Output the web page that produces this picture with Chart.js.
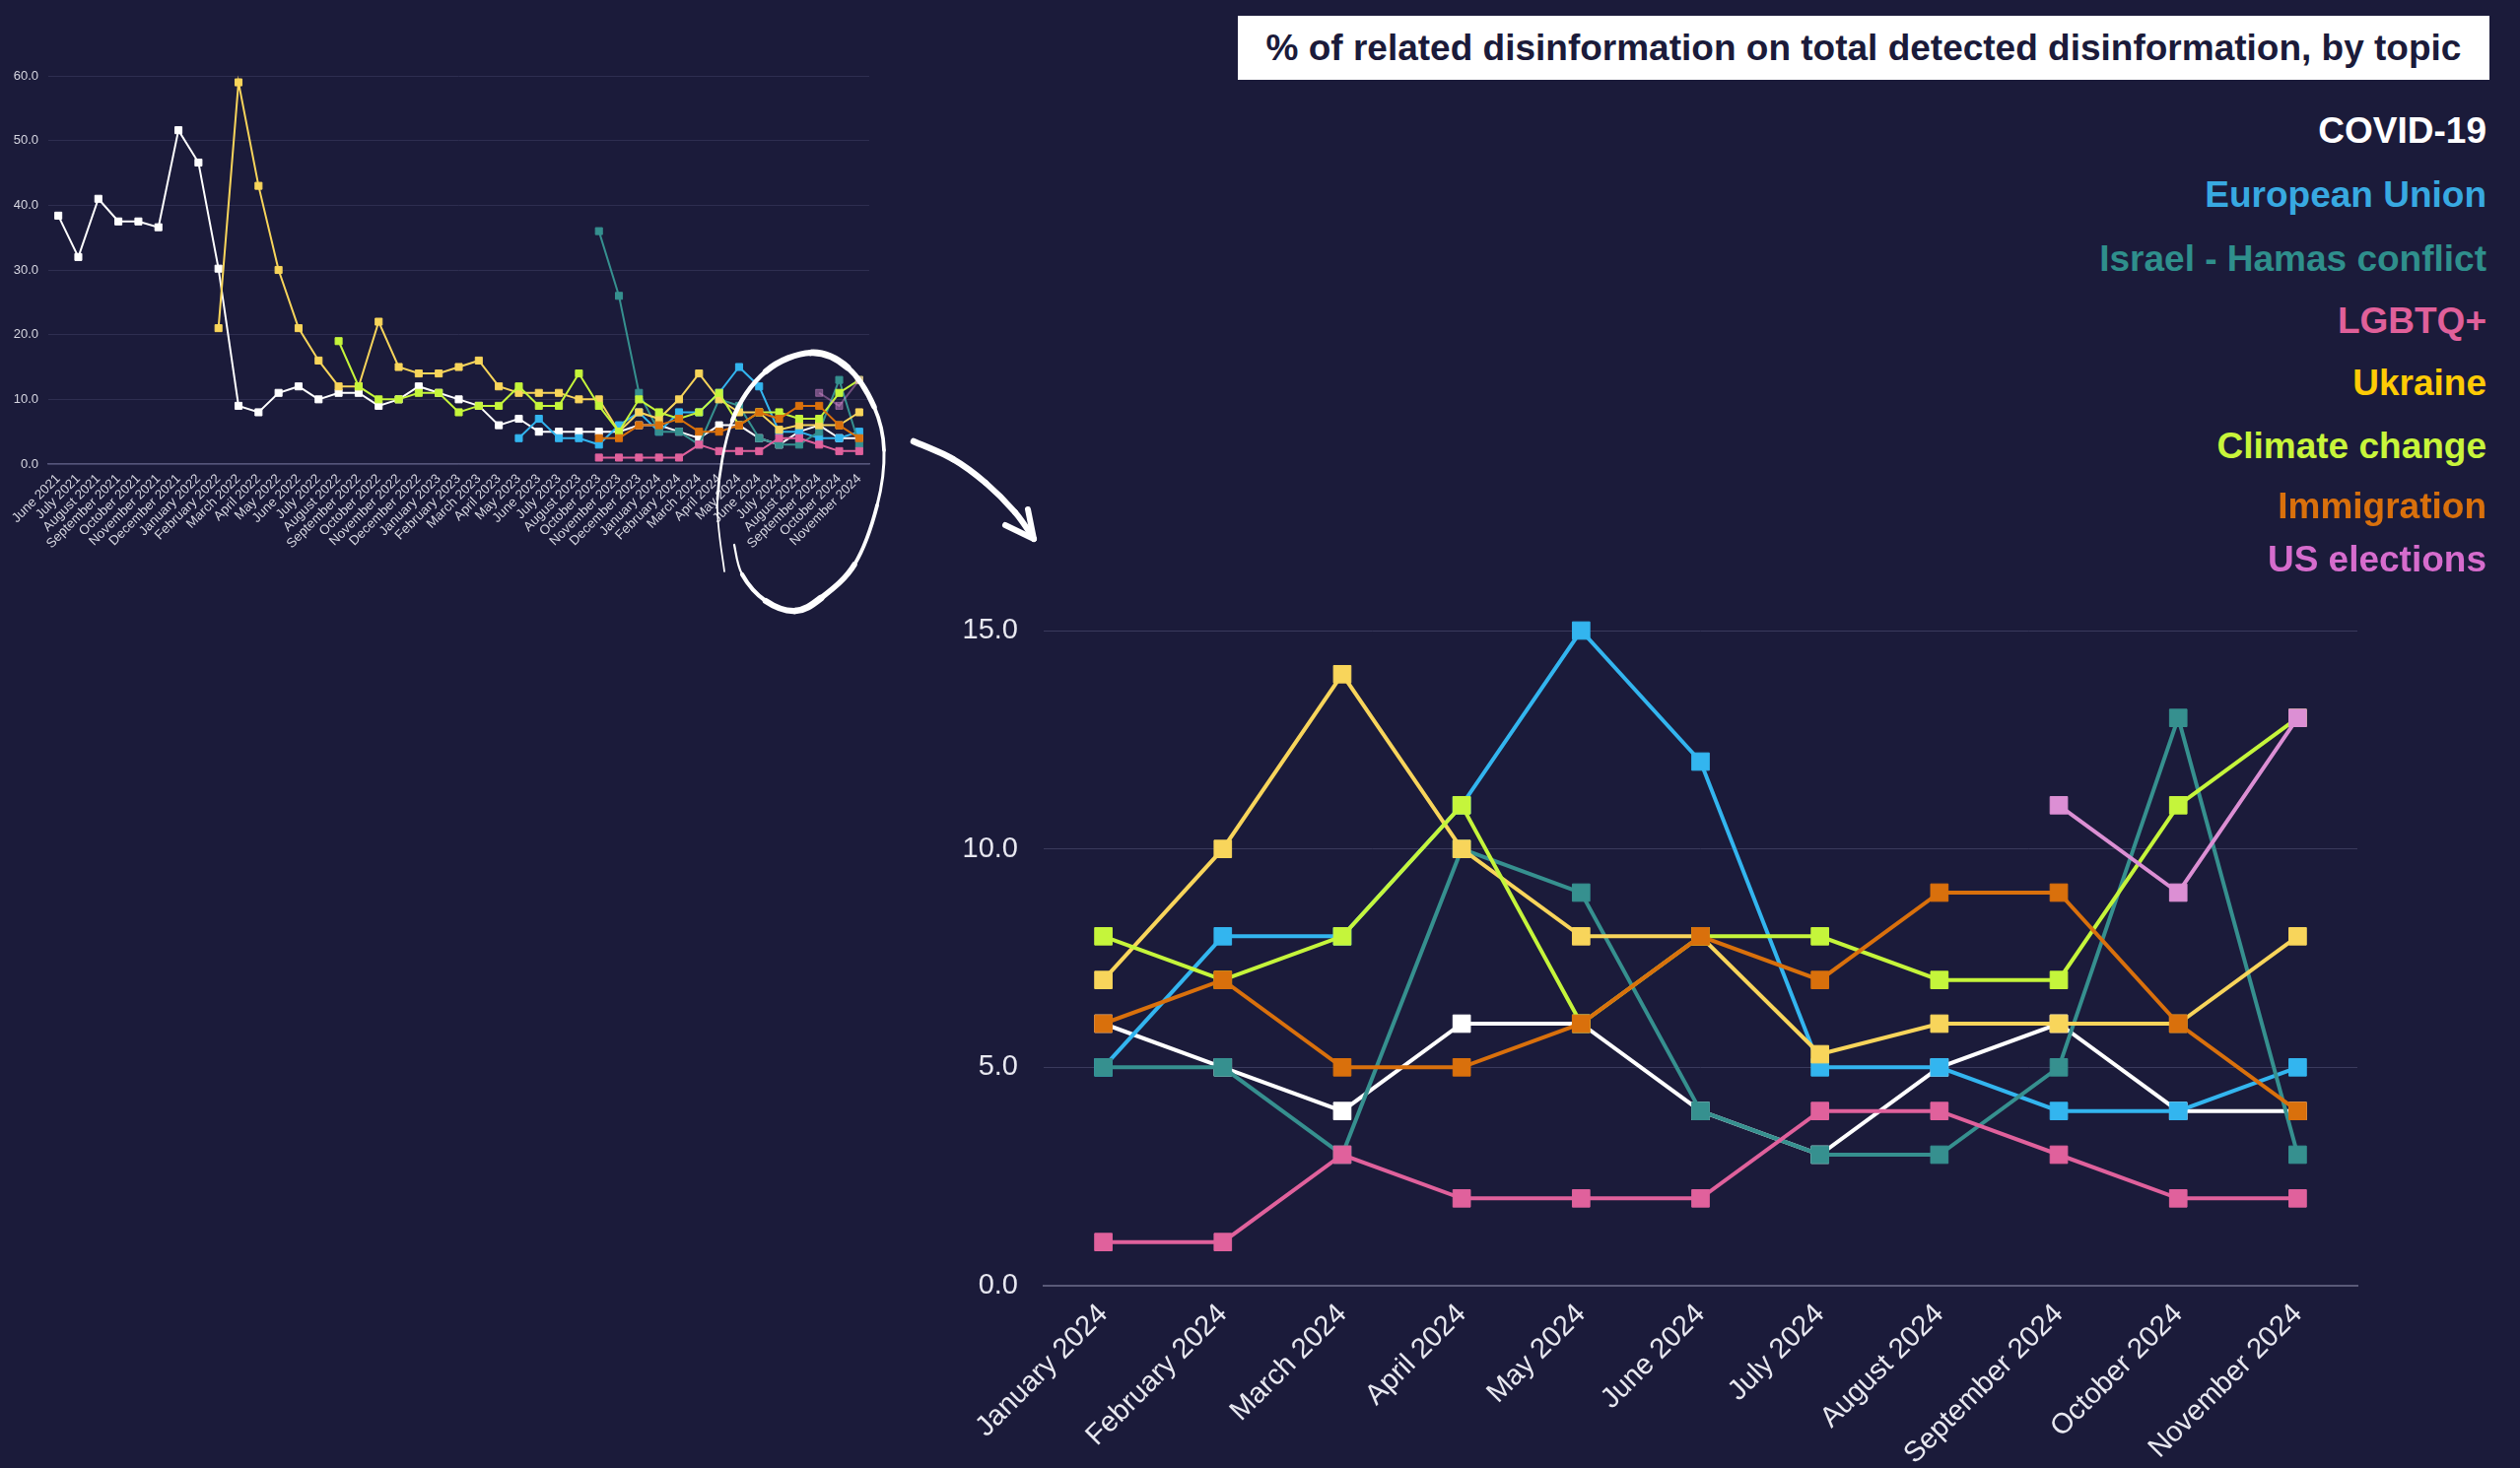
<!DOCTYPE html>
<html>
<head>
<meta charset="utf-8">
<title>% of related disinformation on total detected disinformation, by topic</title>
<script src="https://cdn.jsdelivr.net/npm/chart.js@4.4.1/dist/chart.umd.min.js"></script>
<style>
html, body { margin: 0; padding: 0; background: #1b1b3a; width: 2557px; height: 1490px; overflow: hidden; font-family: "Liberation Sans", Arial, sans-serif; }
#overview { position: absolute; left: 0; top: 0; }
#zoomed { position: absolute; left: 940px; top: 580px; }
#title { position: absolute; left: 1256px; top: 16px; width: 1270px; height: 65px; background: #ffffff; color: #1b1b3a; font-weight: bold; font-size: 37px; line-height: 65px; text-align: center; white-space: nowrap; }
.legend-item { position: absolute; right: 34px; font-weight: bold; font-size: 37px; line-height: 37px; white-space: nowrap; }
</style>
</head>
<body>
<canvas id="overview" width="1100" height="640"></canvas>
<canvas id="zoomed" width="1617" height="910"></canvas>
<div id="title">% of related disinformation on total detected disinformation, by topic</div>
<div id="legend"></div>
<script>
// months on the x axis (September 2023 is not in the source)
const months = [
  'June 2021', 'July 2021', 'August 2021', 'September 2021', 'October 2021', 'November 2021', 'December 2021',
  'January 2022', 'February 2022', 'March 2022', 'April 2022', 'May 2022', 'June 2022', 'July 2022',
  'August 2022', 'September 2022', 'October 2022', 'November 2022', 'December 2022',
  'January 2023', 'February 2023', 'March 2023', 'April 2023', 'May 2023', 'June 2023', 'July 2023',
  'August 2023', 'October 2023', 'November 2023', 'December 2023',
  'January 2024', 'February 2024', 'March 2024', 'April 2024', 'May 2024', 'June 2024', 'July 2024',
  'August 2024', 'September 2024', 'October 2024', 'November 2024'
];

// each topic: first month it appears, then its values (%)
const covidStart = 'June 2021';
const covid = [38.4, 32, 41, 37.5, 37.5, 36.6, 51.6, 46.6, 30.2, 9, 8, 11, 12, 10, 11, 11, 9, 10, 12, 11,
  10, 9, 6, 7, 5, 5, 5, 5, 5, 6, 6, 5, 4, 6, 6, 4, 3, 5, 6, 4, 4];

const euStart = 'May 2023';
const europeanUnion = [4, 7, 4, 4, 3, 6, 8, 5, 8, 8, 11, 15, 12, 5, 5, 4, 4, 5];

const israelStart = 'October 2023';
const israelHamas = [36, 26, 11, 5, 5, 3, 10, 9, 4, 3, 3, 5, 13, 3];

const lgbtqStart = 'October 2023';
const lgbtq = [1, 1, 1, 1, 1, 3, 2, 2, 2, 4, 4, 3, 2, 2];

const ukraineStart = 'February 2022';
const ukraine = [21, 59, 43, 30, 21, 16, 12, 12, 22, 15, 14, 14, 15, 16, 12, 11, 11, 11, 10, 10, 5, 8,
  7, 10, 14, 10, 8, 8, 5.3, 6, 6, 6, 8];

const climateStart = 'August 2022';
const climateChange = [19, 12, 10, 10, 11, 11, 8, 9, 9, 12, 9, 9, 14, 9, 5, 10, 8, 7, 8, 11, 6, 8, 8, 7, 7, 11, 13];

const immigrationStart = 'October 2023';
const immigration = [4, 4, 6, 6, 7, 5, 5, 6, 8, 7, 9, 9, 6, 4];

const usStart = 'September 2024';
const usElections = [11, 9, 13];

const topicNames = ['COVID-19', 'European Union', 'Israel - Hamas conflict', 'LGBTQ+', 'Ukraine', 'Climate change', 'Immigration', 'US elections'];
const zoomFrom = 'January 2024';

// styling
const lineColors = ['#ffffff', '#33b5ef', '#36908f', '#e0619c', '#f8d55b', '#c5f53b', '#d9700c', '#dc8fd4'];
const legendColors = ['#ffffff', '#38a9e1', '#2f8f8c', '#e0609a', '#ffcb05', '#c8f53a', '#d9700c', '#d66ccd'];
const overviewColors = ['#ffffff', '#33b5ef', '#36908f', '#e0619c', '#f8d55b', '#c5f53b', '#d9700c', 'rgba(220,143,212,0.45)'];
const legendTops = [114, 179, 244, 307, 370, 434, 495, 549];

function pad(start, values) {
  const lead = months.indexOf(start);
  const out = [];
  for (let i = 0; i < lead; i++) out.push(null);
  return out.concat(values);
}

const series = [
  pad(covidStart, covid),
  pad(euStart, europeanUnion),
  pad(israelStart, israelHamas),
  pad(lgbtqStart, lgbtq),
  pad(ukraineStart, ukraine),
  pad(climateStart, climateChange),
  pad(immigrationStart, immigration),
  pad(usStart, usElections)
];

// legend as coloured text
const legendBox = document.getElementById('legend');
topicNames.forEach((name, i) => {
  const d = document.createElement('div');
  d.className = 'legend-item';
  d.style.top = legendTops[i] + 'px';
  d.style.color = legendColors[i];
  d.textContent = name;
  legendBox.appendChild(d);
});

Chart.defaults.font.family = '"Liberation Sans", Arial, sans-serif';
Chart.defaults.animation = false;

// hand drawn circle + arrow
function brush(ctx, pts) {
  ctx.lineCap = 'round';
  for (let i = 0; i < pts.length - 1; i++) {
    const p0 = pts[Math.max(i - 1, 0)], p1 = pts[i], p2 = pts[i + 1], p3 = pts[Math.min(i + 2, pts.length - 1)];
    ctx.beginPath();
    ctx.moveTo(p1[0], p1[1]);
    ctx.bezierCurveTo(p1[0] + (p2[0] - p0[0]) / 6, p1[1] + (p2[1] - p0[1]) / 6,
      p2[0] - (p3[0] - p1[0]) / 6, p2[1] - (p3[1] - p1[1]) / 6, p2[0], p2[1]);
    ctx.lineWidth = (p1[2] + p2[2]) / 2;
    ctx.stroke();
  }
}

const scribble = {
  id: 'scribble',
  afterDraw(chart) {
    const ctx = chart.ctx;
    ctx.save();
    ctx.strokeStyle = '#ffffff';
    brush(ctx, [[735, 580, 1.5], [728, 507, 2], [743, 427, 3.5], [777, 377, 5.5], [823, 358, 7], [860, 373, 6.5],
      [887, 413, 4.5], [897, 457, 3], [890, 513, 3], [867, 573, 4.5], [833, 607, 6.5], [807, 620, 7],
      [777, 610, 5.5], [753, 583, 3], [745, 553, 1.5]]);
    brush(ctx, [[927, 448, 6.5], [967, 466, 6.5], [1000, 490, 6], [1030, 520, 6], [1049, 547, 6]]);
    brush(ctx, [[1020, 533, 6], [1049, 547, 6]]);
    brush(ctx, [[1043, 517, 6], [1049, 547, 6]]);
    ctx.restore();
  }
};

function makeSets(data, colors, radius, width) {
  return data.map((vals, i) => ({
    label: topicNames[i],
    data: vals,
    borderColor: colors[i],
    backgroundColor: colors[i],
    pointBackgroundColor: colors[i],
    pointBorderColor: colors[i],
    pointBorderWidth: 1,
    pointStyle: 'rect',
    pointRadius: radius,
    borderWidth: width,
    tension: 0,
    clip: false,
    order: data.length - i
  }));
}

// overview, June 2021 - November 2024
new Chart(document.getElementById('overview'), {
  type: 'line',
  data: { labels: months, datasets: makeSets(series, overviewColors, 5, 2) },
  options: {
    responsive: false,
    layout: { padding: { top: 77, right: 218, bottom: 0, left: 0 } },
    plugins: { legend: { display: false }, tooltip: { enabled: false } },
    scales: {
      x: {
        offset: true,
        grid: { display: false, drawTicks: false },
        border: { display: true, color: '#55557a', width: 1.5 },
        ticks: { color: '#d6d6e0', font: { size: 13.5 }, autoSkip: false, minRotation: 45, maxRotation: 45, padding: 7 },
        afterFit(scale) { scale.height = 169; }
      },
      y: {
        min: 0, max: 60,
        grid: { color: '#2e2e50', drawTicks: false },
        border: { display: false },
        ticks: { stepSize: 10, color: '#d6d6e0', font: { size: 13 }, padding: 10, callback: v => v.toFixed(1) },
        afterFit(scale) { scale.width = 49; }
      }
    }
  },
  plugins: [scribble]
});

// zoom on 2024
const cut = months.indexOf(zoomFrom);
new Chart(document.getElementById('zoomed'), {
  type: 'line',
  data: { labels: months.slice(cut), datasets: makeSets(series.map(s => s.slice(cut)), lineColors, 12.5, 4) },
  options: {
    responsive: false,
    layout: { padding: { top: 60, right: 165, bottom: 0, left: 0 } },
    plugins: { legend: { display: false }, tooltip: { enabled: false } },
    scales: {
      x: {
        offset: true,
        grid: { display: false, drawTicks: false },
        border: { display: true, color: '#5a5a78', width: 2 },
        ticks: { color: '#e8e8f0', font: { size: 29 }, autoSkip: false, minRotation: 45, maxRotation: 45, padding: 12 },
        afterFit(scale) { scale.height = 185; }
      },
      y: {
        min: 0, max: 15,
        grid: { color: '#3a3a5c', drawTicks: false },
        border: { display: false },
        ticks: { stepSize: 5, color: '#e8e8f0', font: { size: 29 }, padding: 26, callback: v => v.toFixed(1) },
        afterFit(scale) { scale.width = 119; }
      }
    }
  }
});
</script>
</body>
</html>
